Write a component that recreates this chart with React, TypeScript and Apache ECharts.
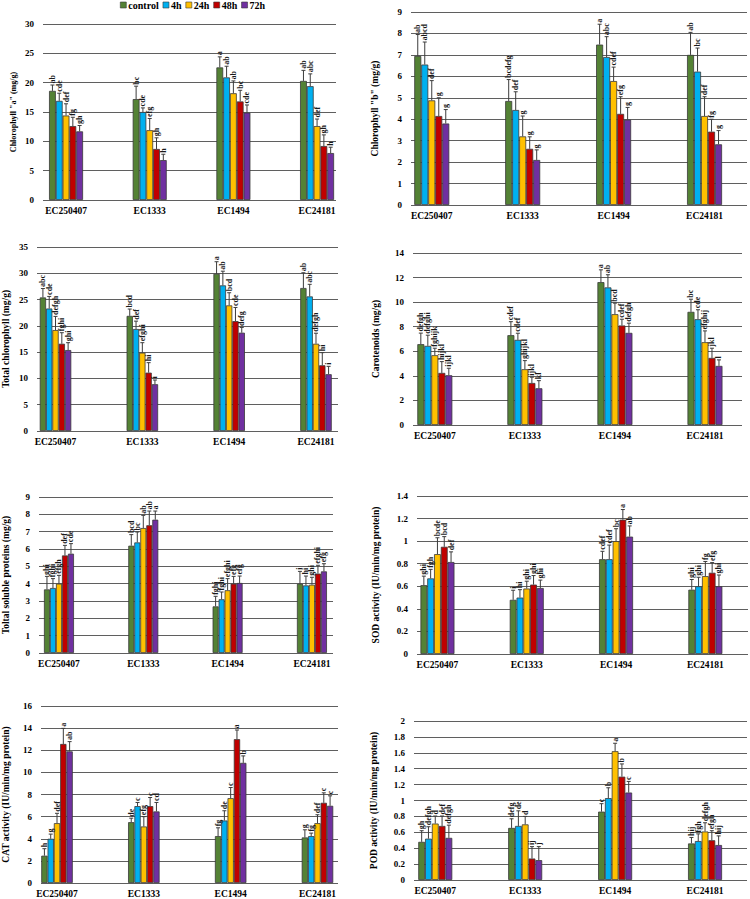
import React, { useEffect, useRef } from "react";
import * as echarts from "echarts";

const categories = ["EC250407", "EC1333", "EC1494", "EC24181"];
const seriesNames = ["control", "4h", "24h", "48h", "72h"];
const seriesColors = ["#548235", "#00B0F0", "#FFC000", "#C00000", "#7030A0"];

// Rows: control, 4h, 24h, 48h, 72h ; columns: categories
const chlAMeans = [
  [18.6, 17.2, 22.6, 20.3],
  [16.9, 15.0, 20.9, 19.4],
  [14.4, 11.9, 18.2, 12.6],
  [12.6, 8.7, 16.8, 9.2],
  [11.7, 6.8, 14.9, 8.0],
];
const chlASd = [
  [1.0, 2.2, 1.8, 1.8],
  [1.3, 0.7, 1.9, 2.1],
  [2.0, 2.0, 2.1, 1.2],
  [1.5, 1.9, 1.9, 1.9],
  [1.0, 1.0, 1.3, 1.0],
];
const chlALetters = [
  ["ab", "bc", "a", "ab"],
  ["cde", "cde", "ab", "abc"],
  ["def", "efg", "ab", "def"],
  ["fg", "gh", "bc", "gh"],
  ["gh", "h", "cde", "h"],
];

const chlBMeans = [
  [6.95, 4.85, 7.48, 7.0],
  [6.55, 4.43, 6.9, 6.22],
  [4.88, 3.2, 5.78, 4.15],
  [4.15, 2.62, 4.25, 3.42],
  [3.8, 2.1, 3.98, 2.83],
];
const chlBSd = [
  [1.0, 1.0, 0.95, 1.05],
  [1.05, 0.85, 0.95, 1.1],
  [0.92, 0.95, 0.65, 0.9],
  [0.85, 0.56, 0.8, 0.58],
  [0.65, 0.47, 0.57, 0.64],
];
const chlBLetters = [
  ["ab", "bcdefg", "a", "ab"],
  ["abcd", "def", "abc", "bc"],
  ["def", "g", "cdef", "def"],
  ["g", "g", "efg", "fg"],
  ["g", "g", "g", "g"],
];

const totChlMeans = [
  [25.4, 21.9, 29.9, 27.2],
  [23.3, 19.4, 27.7, 25.6],
  [19.2, 14.9, 23.9, 16.6],
  [16.6, 11.1, 20.9, 12.5],
  [15.4, 8.9, 18.7, 10.8],
];
const totChlSd = [
  [1.7, 1.3, 2.3, 2.9],
  [2.3, 1.5, 2.7, 2.3],
  [2.6, 1.9, 2.4, 2.0],
  [2.1, 1.9, 2.6, 2.4],
  [1.4, 0.8, 1.0, 1.5],
];
const totChlLetters = [
  ["abc", "bcd", "a", "ab"],
  ["cde", "def", "ab", "abc"],
  ["defgh", "efghi", "bcd", "defgh"],
  ["fghi", "hi", "cde", "hi"],
  ["ghi", "i", "defg", "i"],
];

const carMeans = [
  [6.58, 7.31, 11.63, 9.21],
  [6.44, 6.93, 11.2, 8.61],
  [5.68, 4.54, 9.02, 6.74],
  [4.24, 3.42, 8.1, 5.46],
  [4.05, 2.99, 7.5, 4.81],
];
const carSd = [
  [0.9, 1.1, 1.0, 1.03],
  [0.87, 0.54, 1.03, 0.77],
  [0.57, 0.7, 0.9, 0.92],
  [0.92, 0.47, 0.51, 0.79],
  [0.57, 0.62, 0.79, 0.49],
];
const carLetters = [
  ["defgh", "cdef", "a", "bc"],
  ["defghi", "cdef", "ab", "cde"],
  ["fghijk", "ghijkl", "bcd", "efghij"],
  ["hijkl", "ijkl", "cdef", "jkl"],
  ["ijkl", "kl", "defgh", "l"],
];

const tspMeans = [
  [3.67, 6.19, 2.69, 4.0],
  [3.75, 6.38, 3.1, 3.9],
  [4.0, 7.21, 3.62, 3.94],
  [5.63, 7.37, 4.0, 4.58],
  [5.73, 7.69, 4.04, 4.71],
];
const tspSd = [
  [0.75, 0.64, 0.58, 0.71],
  [0.54, 0.6, 0.42, 0.54],
  [0.48, 0.73, 0.67, 0.43],
  [0.58, 0.82, 0.42, 0.48],
  [0.58, 0.5, 0.4, 0.44],
];
const tspLetters = [
  ["ghi", "bcd", "fghi", "i"],
  ["fghi", "bc", "fghi", "hi"],
  ["efgh", "ab", "efghi", "ghi"],
  ["def", "ab", "efg", "efghi"],
  ["cde", "a", "efg", "efg"],
];

const sodMeans = [
  [0.61, 0.48, 0.84, 0.57],
  [0.67, 0.5, 0.84, 0.6],
  [0.885, 0.58, 1.0, 0.69],
  [0.95, 0.615, 1.19, 0.72],
  [0.815, 0.585, 1.04, 0.6],
];
const sodSd = [
  [0.08, 0.085, 0.07, 0.09],
  [0.08, 0.07, 0.125, 0.08],
  [0.145, 0.065, 0.11, 0.13],
  [0.09, 0.08, 0.09, 0.09],
  [0.09, 0.07, 0.095, 0.1],
];
const sodLetters = [
  ["ghi", "i", "cdef", "ghi"],
  ["fgh", "hi", "cdef", "ghi"],
  ["bcde", "ghi", "bc", "fg"],
  ["bcd", "ghi", "a", "efg"],
  ["def", "ghi", "ab", "ghi"],
];

const catMeans = [
  [2.47, 5.5, 4.24, 4.12],
  [4.0, 6.95, 5.65, 4.24],
  [5.41, 5.11, 7.67, 5.41],
  [12.57, 6.95, 13.0, 7.25],
  [11.9, 6.47, 10.86, 6.98],
];
const catSd = [
  [0.63, 0.36, 0.75, 0.69],
  [0.42, 0.33, 0.88, 0.27],
  [0.89, 0.89, 0.96, 0.76],
  [1.41, 0.78, 0.83, 0.9],
  [0.88, 0.81, 0.63, 0.9],
];
const catLetters = [
  ["h", "de", "fg", "g"],
  ["g", "c", "de", "fg"],
  ["def", "efg", "c", "def"],
  ["a", "c", "a", "c"],
  ["ab", "cd", "b", "c"],
];

const podMeans = [
  [0.48, 0.655, 0.86, 0.46],
  [0.52, 0.68, 1.03, 0.49],
  [0.71, 0.7, 1.62, 0.61],
  [0.68, 0.27, 1.3, 0.5],
  [0.53, 0.25, 1.1, 0.44],
];
const podSd = [
  [0.14, 0.115, 0.1, 0.075],
  [0.15, 0.19, 0.13, 0.09],
  [0.095, 0.1, 0.1, 0.11],
  [0.125, 0.15, 0.16, 0.12],
  [0.16, 0.17, 0.14, 0.115],
];
const podLetters = [
  ["gh", "defg", "c", "hij"],
  ["defgh", "de", "b", "fgh"],
  ["d", "d", "a", "defgh"],
  ["def", "ij", "b", "efgh"],
  ["defgh", "j", "c", "hij"],
];

const axisTitles = [
  'Chlorophyll "a" (mg/g)',
  'Chlorophyll "b" (mg/g)',
  "Total chlorophyll (mg/g)",
  "Carotenoids (mg/g)",
  "Toltal soluble proteins (mg/g)",
  "SOD activity (IU/min/mg protein)",
  "CAT activity (IU/min/mg protein)",
  "POD activity (IU/min/mg protein)",
];
const axisMax = [30, 9, 35, 14, 9, 1.4, 16, 2];
const axisInterval = [5, 1, 5, 2, 1, 0.2, 2, 0.2];

const panelData = [
  [chlAMeans, chlASd, chlALetters],
  [chlBMeans, chlBSd, chlBLetters],
  [totChlMeans, totChlSd, totChlLetters],
  [carMeans, carSd, carLetters],
  [tspMeans, tspSd, tspLetters],
  [sodMeans, sodSd, sodLetters],
  [catMeans, catSd, catLetters],
  [podMeans, podSd, podLetters],
];

// Layout (pixels): gridline area left/top/width/height, bar area left/width, bar width, title gap, title size
const layouts = [
  { gl: 43, top: 24, gw: 293, h: 176, bl: 24.2, bwid: 334.7, bw: 6.8, gap: 26, ts: 8 },
  { gl: 411, top: 12, gw: 336, h: 193, bl: 386.3, bwid: 386, bw: 7, gap: 31, ts: 9.5 },
  { gl: 33, top: 247, gw: 305, h: 184, bl: 12.1, bwid: 347.3, bw: 6.3, gap: 26, ts: 9.5 },
  { gl: 413, top: 253, gw: 329, h: 172, bl: 389.8, bwid: 374, bw: 7, gap: 32, ts: 9.5 },
  { gl: 38, top: 497, gw: 295, h: 156, bl: 16.8, bwid: 337.3, bw: 6, gap: 28, ts: 9.5 },
  { gl: 417, top: 496, gw: 331, h: 158, bl: 392.8, bwid: 378, bw: 6.8, gap: 36, ts: 9.5 },
  { gl: 35, top: 706, gw: 303, h: 177, bl: 13.6, bwid: 347.3, bw: 6.3, gap: 30, ts: 9.5 },
  { gl: 414, top: 721, gw: 333, h: 159, bl: 390.3, bwid: 381.3, bw: 6.8, gap: 35, ts: 9.5 },
];

const FONT = "'Liberation Serif', 'Times New Roman', serif";

function buildOption() {
  const grid: any[] = [];
  const xAxis: any[] = [];
  const yAxis: any[] = [];
  const series: any[] = [];

  panelData.forEach(([means, sds, letters], pi) => {
    const L = layouts[pi];
    const gA = grid.length;
    const gB = gA + 1;
    grid.push({ left: L.gl, top: L.top, width: L.gw, height: L.h });
    grid.push({ left: L.bl, top: L.top, width: L.bwid, height: L.h });

    xAxis.push({ gridIndex: gA, type: "category", data: categories, show: false });
    xAxis.push({
      gridIndex: gB,
      type: "category",
      data: categories,
      axisLine: { show: false },
      axisTick: { show: false },
      axisLabel: {
        margin: 6,
        color: "#000",
        fontFamily: FONT,
        fontWeight: "bold",
        fontSize: 9.5,
      },
    });

    yAxis.push({
      gridIndex: gA,
      type: "value",
      min: 0,
      max: axisMax[pi],
      interval: axisInterval[pi],
      name: axisTitles[pi],
      nameLocation: "middle",
      nameGap: L.gap,
      nameTextStyle: {
        fontFamily: FONT,
        fontWeight: "bold",
        fontSize: L.ts,
        color: "#000",
      },
      axisLine: { show: false },
      axisTick: { show: false },
      axisLabel: {
        margin: 9,
        color: "#000",
        fontFamily: FONT,
        fontWeight: "bold",
        fontSize: 9,
      },
      splitLine: { show: true, lineStyle: { color: "#5f5f5f", width: 1 } },
    });
    yAxis.push({
      gridIndex: gB,
      type: "value",
      min: 0,
      max: axisMax[pi],
      interval: axisInterval[pi],
      show: false,
      splitLine: { show: false },
    });

    (means as number[][]).forEach((row, si) => {
      series.push({
        type: "bar",
        name: seriesNames[si],
        xAxisIndex: gB,
        yAxisIndex: gB,
        data: row,
        barWidth: L.bw,
        barGap: "0%",
        itemStyle: {
          color: seriesColors[si],
          borderColor: "#3a3a3a",
          borderWidth: 0.8,
        },
      });
    });

    const errData: number[][] = [];
    const errLabels: string[] = [];
    (means as number[][]).forEach((row, si) => {
      row.forEach((m, ci) => {
        errData.push([ci, si, m, m + (sds as number[][])[si][ci]]);
        errLabels.push((letters as string[][])[si][ci]);
      });
    });
    const bw = L.bw;
    series.push({
      type: "custom",
      xAxisIndex: gB,
      yAxisIndex: gB,
      silent: true,
      z: 10,
      clip: false,
      data: errData,
      renderItem: (params: any, api: any) => {
        const ci = api.value(0);
        const si = api.value(1);
        const base = api.coord([ci, api.value(2)]);
        const tp = api.coord([ci, api.value(3)]);
        const x = base[0] + (si - 2) * bw;
        return {
          type: "group",
          children: [
            {
              type: "line",
              shape: { x1: x, y1: base[1], x2: x, y2: tp[1] },
              style: { stroke: "#3c3c3c", lineWidth: 1 },
            },
            {
              type: "line",
              shape: { x1: x - 2, y1: tp[1], x2: x + 2, y2: tp[1] },
              style: { stroke: "#3c3c3c", lineWidth: 1 },
            },
            {
              type: "text",
              x: x,
              y: tp[1] - 1.5,
              rotation: Math.PI / 2,
              style: {
                text: errLabels[params.dataIndex],
                fontSize: 8,
                fontWeight: "bold",
                fontFamily: FONT,
                fill: "#1a1a1a",
                align: "left",
                verticalAlign: "middle",
              },
            },
          ],
        };
      },
    });
  });

  return {
    animation: false,
    backgroundColor: "#ffffff",
    legend: {
      data: seriesNames,
      left: 120,
      top: 0,
      padding: 0,
      itemWidth: 6,
      itemHeight: 6,
      itemGap: 4,
      icon: "rect",
      itemStyle: { borderColor: "#3a3a3a", borderWidth: 0.6 },
      textStyle: {
        fontFamily: FONT,
        fontWeight: "bold",
        fontSize: 10,
        color: "#000",
        padding: [0, 0, 0, -3],
      },
    },
    grid,
    xAxis,
    yAxis,
    series,
  };
}

export default function App() {
  const ref = useRef<HTMLDivElement>(null);
  useEffect(() => {
    if (!ref.current) return;
    const chart = echarts.init(ref.current, undefined, { renderer: "svg" });
    chart.setOption(buildOption() as any);
    return () => chart.dispose();
  }, []);
  return (
    <div
      ref={ref}
      style={{ position: "absolute", left: 0, top: 0, width: 750, height: 899, background: "#fff" }}
    />
  );
}
